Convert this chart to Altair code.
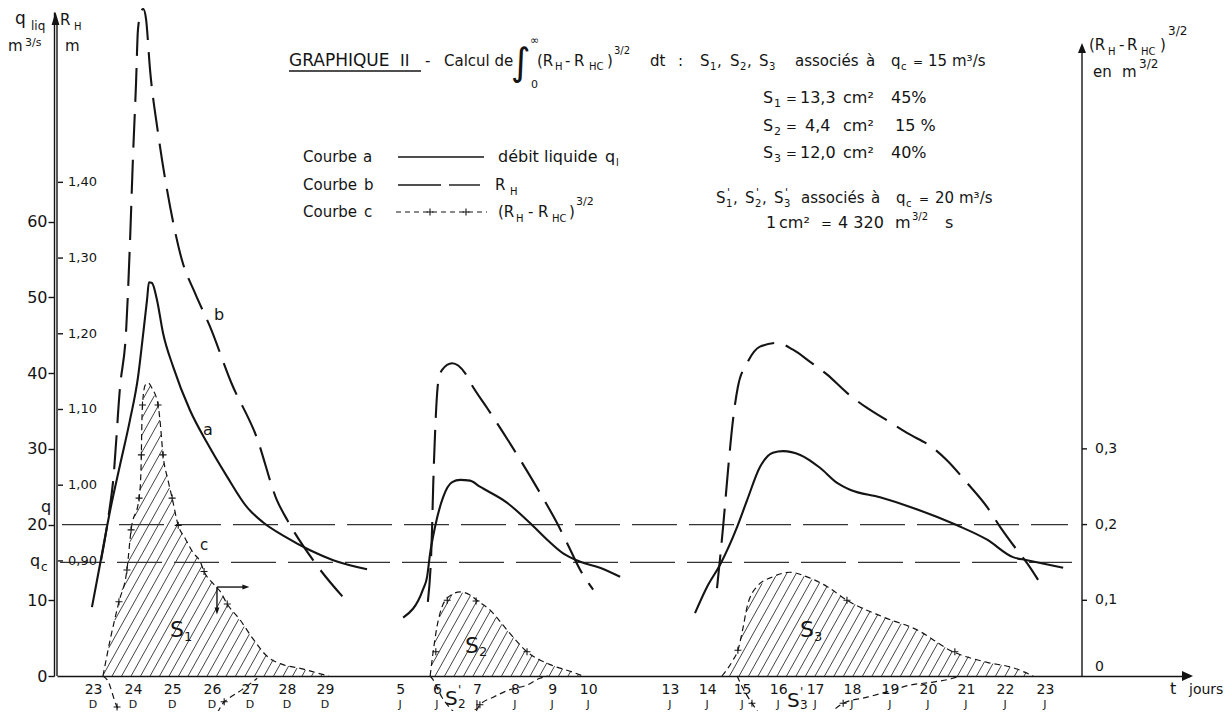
import altair as alt
import numpy as np
import pandas as pd

FONT = "DejaVu Sans"
INK = "#141414"

# ---------------- values ----------------
# broken time axis (unit = 1 day): 23-29 Dec, 5-10 Jan, 13-23 Jan
tick_t = [0.0, 1.05, 2.08, 3.13, 4.13, 5.1, 6.1, 8.08, 9.05, 10.1, 11.1, 12.08, 13.03,
          15.18, 16.16, 17.08, 18.03, 19.0, 19.97, 20.97, 21.97, 22.97, 24.0, 25.05]
tick_day = ["23", "24", "25", "26", "27", "28", "29", "5", "6", "7", "8", "9", "10",
            "13", "14", "15", "16", "17", "18", "19", "20", "21", "22", "23"]
tick_month = ["D"] * 7 + ["J"] * 17

q_ticks = [0, 10, 20, 30, 40, 50, 60]            # q liq  (m3/s)
rh_ticks = [0.90, 1.00, 1.10, 1.20, 1.30, 1.40]  # R_H (m)
rh_labels = ["0,90", "1,00", "1,10", "1,20", "1,30", "1,40"]
RH_OFFSET, RH_FACTOR = 0.748, 100.0              # q-position of an R_H value
s_ticks = [0.1, 0.2, 0.3]                        # (R_H - R_HC)^3/2
s_labels = ["0,1", "0,2", "0,3"]
S_FACTOR = 100.0
q_lines = [20, 15]                               # q and q_c

# curve a : debit liquide q_l
a1_t = [-0.03, 0.18, 0.45, 0.71, 0.97, 1.18, 1.32, 1.42, 1.47, 1.55, 1.68, 1.84, 2.11, 2.55,
        3.0, 3.53, 4.05, 4.47, 5.05, 5.71, 6.32, 7.21]
a1_q = [9.1, 14.7, 21.9, 27.9, 33.8, 39.4, 45.3, 49.7, 52.0, 51.9, 49.7, 45.3, 40.8, 35.1,
        30.8, 26.3, 22.3, 20.3, 18.4, 16.6, 15.3, 14.1]
a2_t = [8.16, 8.68, 8.79, 8.87, 9.0, 9.21, 9.45, 9.66, 9.92, 10.18, 10.89, 11.5, 11.95,
        12.37, 12.82, 13.34, 13.87]
a2_q = [7.7, 11.4, 13.1, 16.2, 19.7, 23.6, 25.6, 25.9, 25.8, 25.0, 22.9, 20.2, 18.0,
        16.2, 15.1, 14.3, 13.1]
a3_t = [15.84, 16.16, 16.5, 16.95, 17.21, 17.55, 17.89, 18.16, 18.61, 19.13, 19.58, 19.92,
        20.71, 21.58, 22.74, 23.53, 24.21, 24.58, 25.53]
a3_q = [8.3, 11.8, 14.7, 19.7, 23.2, 27.6, 29.5, 29.7, 29.2, 27.5, 25.5, 24.6,
        23.6, 22.2, 19.9, 18.0, 15.7, 15.3, 14.3]

# curve b : R_H (plotted on the q scale)
b1_t = [0.21, 0.39, 0.53, 0.71, 0.87, 0.97, 1.05, 1.13, 1.18, 1.26, 1.32, 1.39, 1.50, 1.71,
        2.03, 2.34, 2.68, 3.08, 3.64, 4.3, 4.84, 5.11, 5.79, 6.76]
b1_q = [15.3, 20.6, 25.9, 38.2, 45.7, 57.2, 68.6, 78.3, 85.3, 87.7, 88.1, 86.9, 80.0, 71.7,
        61.9, 54.9, 50.6, 46.1, 38.7, 31.6, 23.2, 20.6, 15.3, 9.4]
b2_t = [8.81, 8.92, 8.95, 9.0, 9.08, 9.18, 9.45, 9.79, 9.97, 10.37, 11.05, 11.76, 12.21,
        12.47, 12.82, 13.16]
b2_q = [9.8, 19.3, 25.0, 32.1, 38.7, 40.4, 41.3, 40.0, 38.4, 35.4, 30.1, 24.2, 20.2,
        17.6, 14.0, 11.4]
b3_t = [16.42, 16.58, 16.71, 16.84, 16.97, 17.21, 17.55, 18.0, 18.42, 18.87, 19.32, 19.84,
        20.37, 20.79, 21.42, 22.11, 22.47, 23.0, 23.53, 23.87, 24.32, 24.58, 24.87]
b3_q = [11.6, 19.7, 27.2, 33.8, 38.2, 41.3, 43.5, 44.0, 43.1, 41.5, 39.8, 37.4,
        35.4, 34.1, 32.1, 30.1, 28.5, 25.5, 22.3, 19.7, 16.6, 14.9, 12.7]

# curve c : (R_H - R_HC)^3/2 for q_c = 15 (x100 on the q scale)
c1_t = [0.26, 0.45, 0.68, 0.89, 1.0, 1.21, 1.25, 1.27, 1.28, 1.30, 1.37, 1.45, 1.55, 1.71,
        1.76, 1.84, 1.97, 2.08, 2.24, 2.42, 2.63, 2.82, 2.92, 3.16, 3.34, 3.53, 3.87, 4.21,
        4.58, 5.0, 5.45, 5.9, 6.2]
c1_q = [0, 4.8, 9.8, 14.0, 19.3, 23.5, 25.9, 29.2, 32.5, 35.8, 38.4, 38.7, 38.0, 35.8,
        33.8, 29.2, 25.9, 23.5, 19.9, 18.2, 16.3, 15.1, 13.8, 12.2, 11.2, 9.5, 7.4, 4.9,
        2.6, 1.5, 1.0, 0.4, 0]
c2_t = [8.87, 8.95, 9.05, 9.18, 9.32, 9.45, 9.66, 9.92, 10.1, 10.45, 10.89, 11.42, 12.03,
        12.63, 12.89]
c2_q = [0, 3.2, 6.5, 9.1, 10.3, 10.8, 11.1, 10.7, 10.0, 8.7, 6.1, 3.2, 1.5, 0.5, 0]
c3_t = [16.55, 16.84, 16.97, 17.11, 17.21, 17.47, 17.89, 18.34, 18.79, 19.32, 19.84, 20.79,
        21.68, 22.63, 23.53, 24.21, 24.74]
c3_q = [0, 2.1, 3.4, 6.5, 9.1, 11.8, 13.1, 13.7, 13.1, 11.8, 10.0, 7.8, 6.1, 3.2, 1.8, 1.1, 0]

# S' curves (q_c = 20), drawn below the time axis
s1p_t = [0.26, 0.37, 0.63, 0.79, 1.3, 2.2, 3.0, 3.26, 3.45, 3.53, 3.92, 4.32]
s1p_q = [0, -0.5, -4.1, -5.5, -8.0, -8.5, -6.5, -4.9, -3.4, -3.1, -1.8, -0.3]
s2p_t = [8.87, 8.95, 9.18, 9.39, 9.71, 9.97, 10.18, 10.53, 10.97, 11.42, 11.76, 11.97]
s2p_q = [0, -0.5, -2.8, -4.2, -5.4, -5.3, -3.8, -2.8, -1.8, -1.2, -0.3, 0]
s3p_t = [16.95, 17.03, 17.34, 17.61, 18.3, 19.26, 19.74, 20.37, 20.89, 21.5, 22.11, 22.63, 22.82]
s3p_q = [0, -0.9, -3.6, -5.4, -7.0, -5.4, -3.6, -2.8, -2.1, -1.2, -0.8, -0.3, 0]

# '+' marks on curves c and S'
plus_t = [0.68, 0.89, 1.0, 1.21, 1.27, 1.30, 1.71, 1.84, 2.08, 2.24, 2.92, 3.53,
          9.02, 9.32, 10.08, 11.42, 16.97, 19.84, 22.68,
          0.63, 3.45, 10.18, 17.34, 19.74]
plus_q = [9.8, 14.0, 19.3, 23.5, 29.2, 35.8, 35.8, 29.2, 23.5, 19.9, 13.8, 9.5,
          3.2, 10.0, 9.9, 3.2, 3.4, 10.0, 3.2,
          -4.1, -3.4, -3.8, -3.6, -3.6]

# ---------------- layout ----------------
W, H = 1133, 664
X_DOM = [-0.95, 28.868]
Y_DOM = [0.0, 87.7]


def dx(px):  # page pixel -> day units (annotation placement only)
    return X_DOM[0] + (px - 57) / W * (X_DOM[1] - X_DOM[0])


def dy(py):
    return Y_DOM[1] - (py - 12) / H * (Y_DOM[1] - Y_DOM[0])


label_expr = "".join(f"abs(datum.value - {t}) < 0.01 ? '{d}' : " for t, d in zip(tick_t, tick_day)) + "''"

xscale = alt.Scale(domain=X_DOM, nice=False, zero=False)
yscale = alt.Scale(domain=Y_DOM, nice=False, zero=False)
xaxis = alt.Axis(values=tick_t, labelExpr=label_expr, ticks=False, tickSize=0, labelPadding=17,
                 labelBaseline="alphabetic", labelFontSize=14, labelFont=FONT, labelColor=INK,
                 domainColor=INK, domainWidth=1.5, grid=False, title=None,
                 labelOverlap=False, labelFlush=False, labelBound=False)
yaxis = alt.Axis(values=q_ticks, offset=3, tickSize=6, tickWidth=1.4, tickColor=INK,
                 labelPadding=1, labelFontSize=16, labelFont=FONT, labelColor=INK,
                 domainColor=INK, domainWidth=1.4, grid=False, title=None)


def X(f="t"):
    return alt.X(f + ":Q", scale=xscale, axis=xaxis)


def Y(f="q"):
    return alt.Y(f + ":Q", scale=yscale, axis=yaxis)


def curves(pairs):
    rows = []
    for name, (ts, qs) in pairs.items():
        for t, q in zip(ts, qs):
            rows.append({"seg": name, "t": t, "q": q})
    return pd.DataFrame(rows)


df_a = curves({"a1": (a1_t, a1_q), "a2": (a2_t, a2_q), "a3": (a3_t, a3_q)})
df_b = curves({"b1": (b1_t, b1_q), "b2": (b2_t, b2_q), "b3": (b3_t, b3_q)})
df_c = curves({"c1": (c1_t, c1_q), "c2": (c2_t, c2_q), "c3": (c3_t, c3_q),
               "s1p": (s1p_t, s1p_q), "s2p": (s2p_t, s2p_q), "s3p": (s3p_t, s3p_q)})


# hatching of S1, S2, S3 (derived from curve c)
def hatch(ts, qs, step=0.25, k=9.0):
    ts = np.asarray(ts, float)
    qs = np.asarray(qs, float)
    qq = np.linspace(0, qs.max() * 1.02, 600)
    rows = []
    t0 = np.floor((ts[0] - qs.max() / k) / step) * step
    while t0 < ts[-1]:
        tt = t0 + qq / k
        ok = (tt >= ts[0]) & (tt <= ts[-1])
        ok &= qq <= np.interp(tt, ts, qs)
        idx = np.where(ok)[0]
        if len(idx):
            for s in np.split(idx, np.where(np.diff(idx) > 1)[0] + 1):
                if len(s) > 2:
                    rows.append({"t": tt[s[0]], "q": qq[s[0]], "t2": tt[s[-1]], "q2": qq[s[-1]]})
        t0 += step
    return rows


df_h = pd.DataFrame(hatch(c1_t, c1_q) + hatch(c2_t, c2_q) + hatch(c3_t, c3_q))

df_qlines = pd.DataFrame({"q": q_lines, "t": [dx(62), dx(60)], "t2": [dx(1068), dx(1072)]})
df_plus = pd.DataFrame({"t": plus_t + [dx(430), dx(466)], "q": plus_q + [dy(212), dy(212)]})

# axes drawn by hand (inner left line, R_H ticks, right axis)
T_RIGHT = dx(1082)
rules = [
    {"t": X_DOM[0], "q": 0, "t2": X_DOM[0], "q2": dy(22)},                # inner left line
    {"t": T_RIGHT, "q": 0, "t2": T_RIGHT, "q2": dy(50)},                  # right axis
]
for v in rh_ticks:
    qv = (v - RH_OFFSET) * RH_FACTOR
    rules.append({"t": dx(58), "q": qv, "t2": dx(63), "q2": qv})
for v in s_ticks:
    qv = v * S_FACTOR
    rules.append({"t": T_RIGHT, "q": qv, "t2": dx(1087), "q2": qv})
# arrow annotation near S1
rules += [{"t": 3.26, "q": 11.75, "t2": 4.0, "q2": 11.75},
          {"t": 3.26, "q": 11.75, "t2": 3.26, "q2": 8.9}]
# legend samples and underline
rules += [{"t": dx(398), "q": dy(157), "t2": dx(484), "q2": dy(157)},
          {"t": dx(398), "q": dy(185), "t2": dx(441), "q2": dy(185)},
          {"t": dx(449), "q": dy(185), "t2": dx(480), "q2": dy(185)},
          {"t": dx(289), "q": dy(71), "t2": dx(421), "q2": dy(71)}]
df_rules = pd.DataFrame(rules)
df_legc = pd.DataFrame([{"t": dx(396), "q": dy(212), "t2": dx(487), "q2": dy(212)}])

# ---------------- texts ----------------
texts = [
    # axis titles
    ("q", 15, 24, 17), ("liq", 31, 30, 12), ("m", 8, 51, 15), ("3/s", 25, 46, 11),
    ("R", 60, 25, 15), ("H", 74, 30, 10), ("m", 65, 51, 15),
    ("q", 41, 512, 16), ("q", 30, 566, 16), ("c", 41, 571, 12),
    # title
    ("GRAPHIQUE", 289, 66, 17), ("II", 400, 66, 16), ("-", 425, 66, 15), ("Calcul de", 444, 66, 15),
    ("∫", 511, 75, 38), ("∞", 530, 44, 11), ("0", 531, 88, 11),
    ("(R", 537, 66, 15), ("H", 555, 70, 10), ("-", 565, 66, 15), ("R", 574, 66, 15),
    ("HC", 589, 70, 10), (")", 607, 66, 15), ("3/2", 614, 54, 10), ("dt", 650, 66, 15), (":", 678, 66, 15),
    ("S", 700, 66, 15), ("1", 710, 70, 10), (",", 717, 66, 15), ("S", 730, 66, 15), ("2", 740, 70, 10),
    (",", 747, 66, 15), ("S", 759, 66, 15), ("3", 769, 70, 10), ("associés", 795, 66, 15),
    ("à", 866, 66, 15), ("q", 891, 66, 15), ("c", 901, 70, 10), ("=", 913, 66, 12), ("15", 928, 66, 15),
    ("m³/s", 952, 66, 15),
    ("S", 763, 103, 16), ("1", 774, 107, 11), ("=", 786, 103, 13), ("13,3", 800, 103, 16),
    ("cm²", 843, 103, 16), ("45%", 891, 103, 16),
    ("S", 763, 131, 16), ("2", 774, 135, 11), ("=", 786, 131, 13), ("4,4", 805, 131, 16),
    ("cm²", 843, 131, 16), ("15 %", 895, 131, 16),
    ("S", 763, 158, 16), ("3", 774, 162, 11), ("=", 786, 158, 13), ("12,0", 800, 158, 16),
    ("cm²", 843, 158, 16), ("40%", 891, 158, 16),
    ("S", 716, 203, 15), ("'", 727, 196, 11), ("1", 726, 207, 10), (",", 733, 203, 15),
    ("S", 745, 203, 15), ("'", 756, 196, 11), ("2", 755, 207, 10), (",", 762, 203, 15),
    ("S", 774, 203, 15), ("'", 785, 196, 11), ("3", 784, 207, 10), ("associés", 801, 203, 15),
    ("à", 871, 203, 15), ("q", 896, 203, 15), ("c", 906, 207, 10), ("=", 919, 203, 12),
    ("20", 935, 203, 15), ("m³/s", 959, 203, 15),
    ("1", 766, 228, 16), ("cm²", 779, 228, 16), ("=", 821, 228, 13), ("4 320", 838, 228, 16),
    ("m", 895, 228, 16), ("3/2", 912, 220, 10), ("s", 945, 228, 16),
    # right axis title
    ("(R", 1089, 50, 15), ("H", 1108, 55, 10), ("-", 1119, 50, 15), ("R", 1127, 50, 15),
    ("HC", 1141, 55, 10), (")", 1160, 50, 15), ("3/2", 1168, 35, 12),
    ("en", 1093, 77, 15), ("m", 1122, 77, 15), ("3/2", 1139, 68, 12),
    # legend
    ("Courbe", 303, 162, 15), ("a", 363, 162, 15), ("débit liquide", 498, 162, 16),
    ("q", 605, 162, 16), ("l", 616, 166, 10),
    ("Courbe", 303, 190, 15), ("b", 364, 190, 15), ("R", 495, 190, 15), ("H", 510, 195, 10),
    ("Courbe", 303, 217, 15), ("c", 364, 217, 15), ("(R", 498, 217, 15), ("H", 516, 222, 10),
    ("-", 528, 217, 15), ("R", 538, 217, 15), ("HC", 552, 222, 10), (")", 569, 217, 15),
    ("3/2", 576, 205, 11),
    # curve labels
    ("a", 203, 435, 16), ("b", 214, 320, 16), ("c", 200, 550, 15),
    ("S", 170, 637, 22), ("1", 184, 641, 13),
    ("S", 465, 653, 22), ("2", 479, 656, 13),
    ("S", 800, 637, 22), ("3", 814, 641, 13),
    ("S", 445, 705, 20), ("'", 458, 694, 12), ("2", 458, 708, 12),
    ("S", 787, 707, 20), ("'", 800, 696, 12), ("3", 800, 709, 12),
    # time unit
    ("t", 1170, 694, 16), ("jours", 1189, 694, 14),
]
df_txt = pd.DataFrame([{"text": s, "t": dx(x), "q": dy(y), "size": z} for s, x, y, z in texts])

# axis labels drawn through the scales
df_rh = pd.DataFrame({"text": rh_labels, "q": [(v - RH_OFFSET) * RH_FACTOR for v in rh_ticks]})
df_rh["t"] = dx(68)
df_s = pd.DataFrame({"text": s_labels + ["0"], "q": [v * S_FACTOR for v in s_ticks] + [dy(667)]})
df_s["t"] = dx(1095)
df_month = pd.DataFrame({"text": tick_month, "t": tick_t})
df_month["q"] = dy(708)

# ---------------- marks ----------------
hatch_layer = alt.Chart(df_h).mark_rule(strokeWidth=0.8, color=INK).encode(
    x=X(), y=Y(), x2="t2:Q", y2="q2:Q")
c_layer = alt.Chart(df_c).mark_line(strokeWidth=1.2, strokeDash=[6, 4], color=INK,
                                    interpolate="monotone").encode(x=X(), y=Y(), detail="seg:N")
a_layer = alt.Chart(df_a).mark_line(strokeWidth=2.1, color=INK, interpolate="monotone").encode(
    x=X(), y=Y(), detail="seg:N")
b_layer = alt.Chart(df_b).mark_line(strokeWidth=2.1, strokeDash=[34, 12], color=INK,
                                    interpolate="monotone").encode(x=X(), y=Y(), detail="seg:N")
ql_layer = alt.Chart(df_qlines).mark_rule(strokeWidth=1.2, strokeDash=[45, 12], color="#333333").encode(
    x=X(), x2="t2:Q", y=Y())
rule_layer = alt.Chart(df_rules).mark_rule(strokeWidth=1.4, color=INK).encode(
    x=X(), y=Y(), x2="t2:Q", y2="q2:Q")
legc_layer = alt.Chart(df_legc).mark_rule(strokeWidth=1.2, strokeDash=[5, 4], color=INK).encode(
    x=X(), y=Y(), x2="t2:Q", y2="q2:Q")
plus_layer = alt.Chart(df_plus).mark_point(shape="M-1,0L1,0M0,-1L0,1", size=49, filled=False,
                                           strokeWidth=1.1, color=INK, opacity=1).encode(x=X(), y=Y())


def arrow(t, q, path, size):
    d = pd.DataFrame({"t": [t], "q": [q]})
    return alt.Chart(d).mark_point(shape=path, size=size, filled=True, color=INK, opacity=1).encode(
        x=X(), y=Y())


arrows = [
    arrow(dx(55.5), dy(18.5), "M0,-1L0.6,1L-0.6,1Z", 169),          # left axis
    arrow(T_RIGHT, dy(48), "M0,-1L0.8,1L-0.8,1Z", 100),              # right axis
    arrow(dx(1187.5), 0, "M1,0L-1,-0.9L-1,0.9Z", 121),               # time axis
    arrow(4.02, 11.75, "M1,0L-1,-0.7L-1,0.7Z", 49),                   # annotation
    arrow(3.26, 8.6, "M0,1L-0.7,-1L0.7,-1Z", 49),
]


def text_layer(df, align="left", baseline="alphabetic", size=None):
    enc = dict(x=X(), y=Y(), text="text:N")
    if size is None:
        enc["size"] = alt.Size("size:Q", scale=None, legend=None)
    m = alt.Chart(df).mark_text(align=align, baseline=baseline, font=FONT, color=INK,
                                **({} if size is None else {"fontSize": size}))
    return m.encode(**enc)


layers = [hatch_layer, c_layer, ql_layer, b_layer, a_layer, rule_layer, legc_layer, plus_layer] + arrows + [
    text_layer(df_txt),
    text_layer(df_rh, baseline="middle", size=13),
    text_layer(df_s, baseline="middle", size=14),
    text_layer(df_month, align="center", size=11),
]

chart = alt.layer(*layers).properties(
    width=W, height=H,
    autosize=alt.AutoSizeParams(type="none"),
    padding={"left": 49, "top": 4, "right": 34, "bottom": 35},
    background="white",
).configure_view(stroke=None)

chart.save("out.html", embed_options={"renderer": "svg", "actions": False})
